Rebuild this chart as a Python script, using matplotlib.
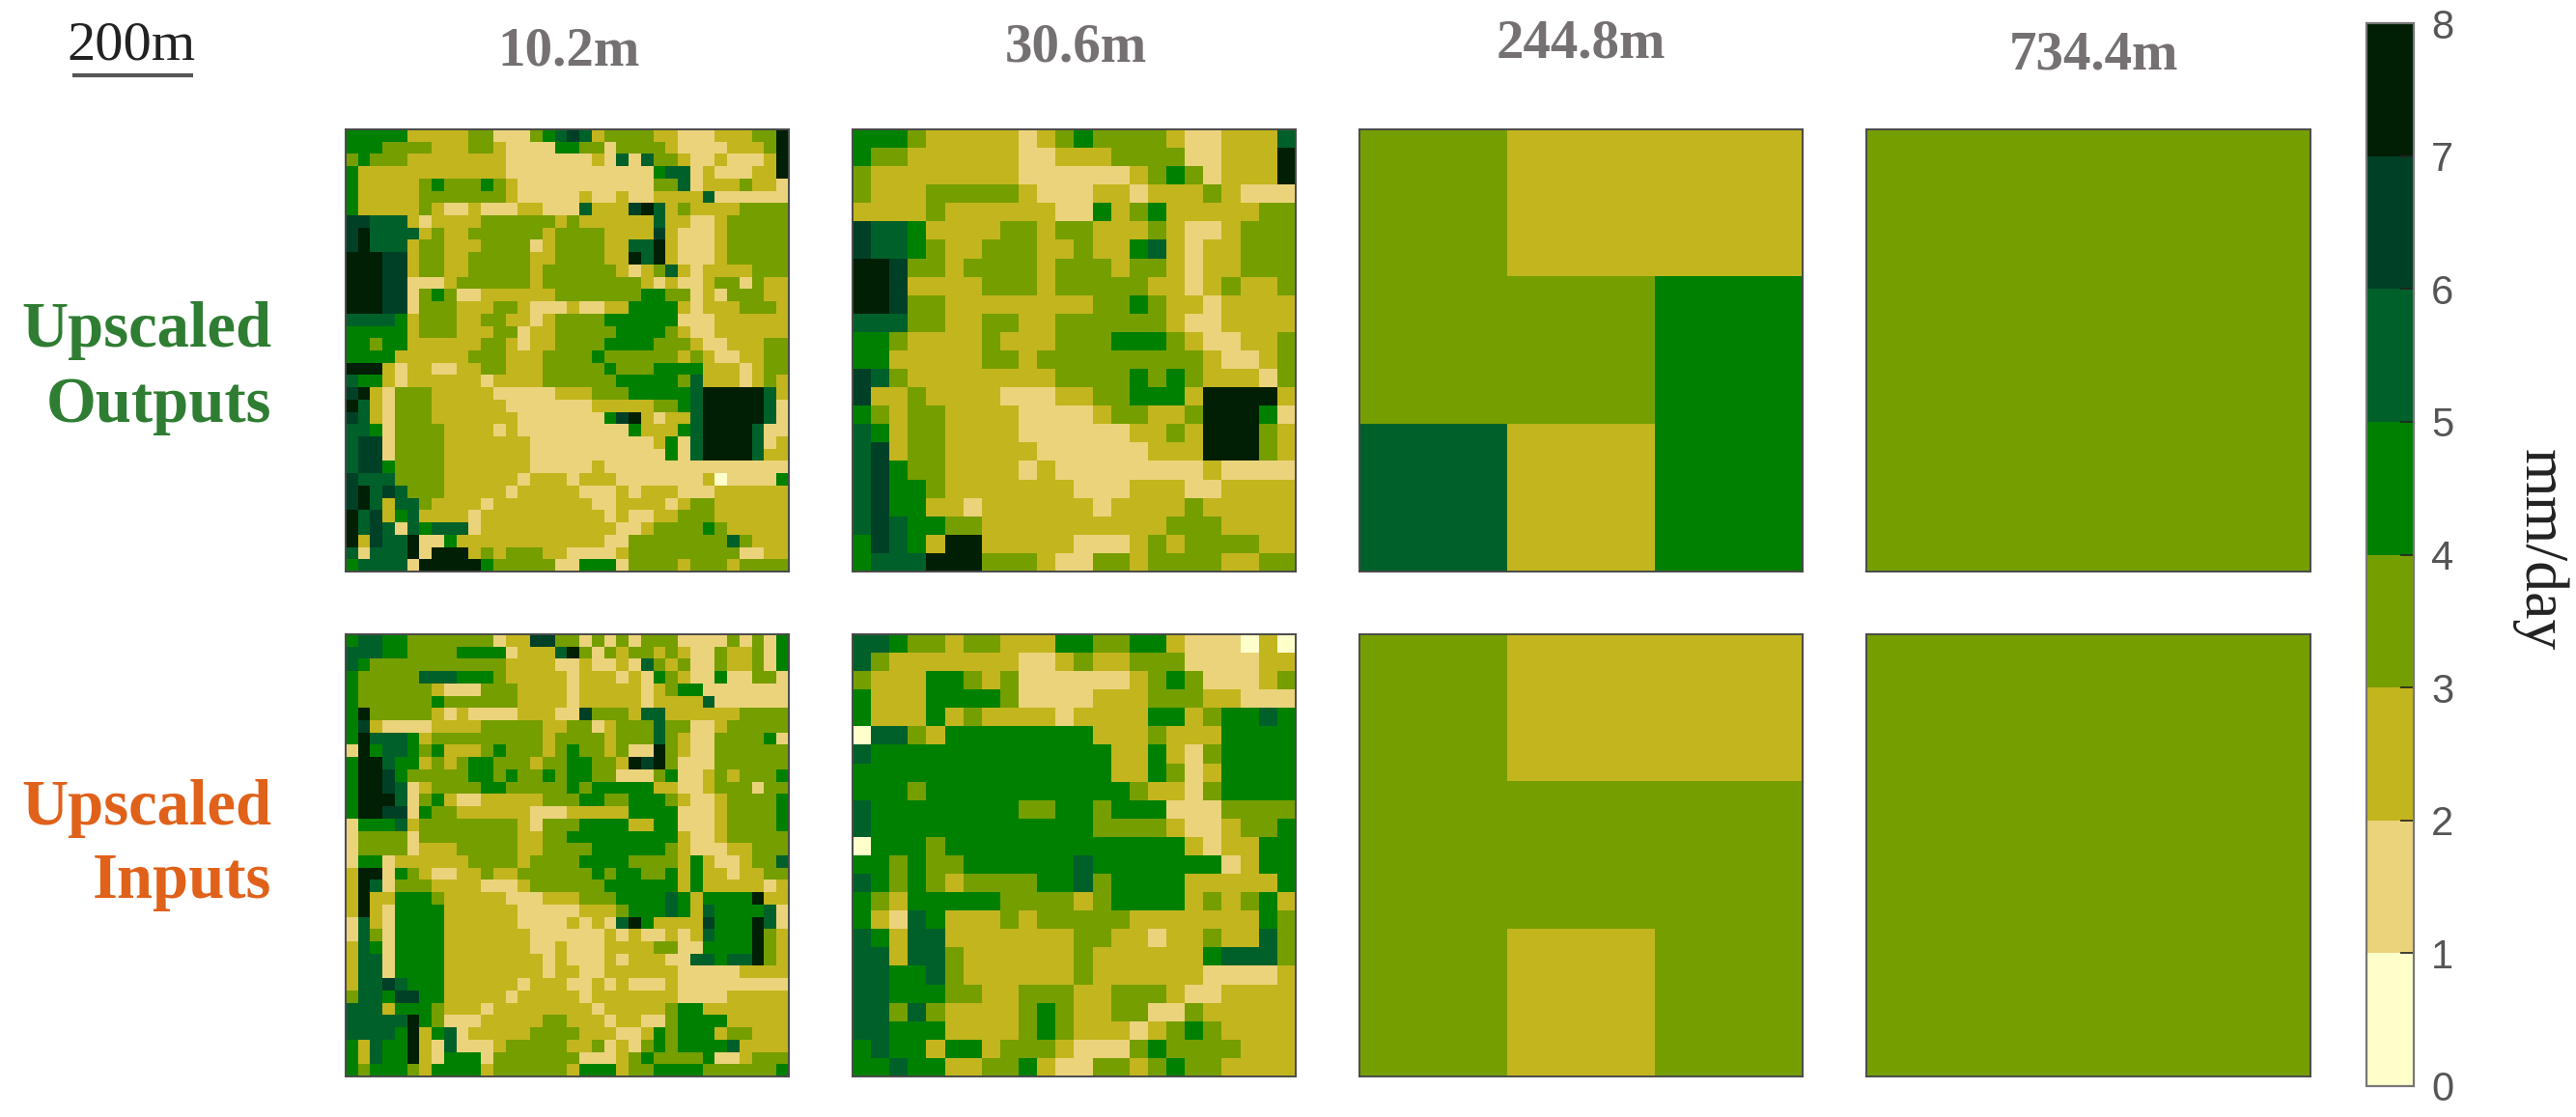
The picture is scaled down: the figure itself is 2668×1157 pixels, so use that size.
import numpy as np
import matplotlib
matplotlib.use("Agg")
import matplotlib.pyplot as plt
from matplotlib.colors import ListedColormap, BoundaryNorm
from matplotlib.cm import ScalarMappable

# Each digit d is the colour class d..d+1 mm/day
out_10 = [
"44444 2222 233 111 34 5 65 2 3333 22 111 2 22 33 7",
"444 3333 22 233 2 1111 44 33 1 3333 2 11 1 12 22 3 7",
"3 4 333 22222222 1111111 2 1 5 1 5 33 2 11 2 111 2 7",
"4 222222222222 1111111111 11 4 5 5 1 2 1 11 2 2 7",
"4 22222 3 4 3 3 3 4 3 2 11111 1111 11 33 5 1 2 22 3 22 1",
"4 22222 3333333 2 11111 2 11 2 11 2222 5 1 11111",
"4 22222 3 2 1 1 2 111 22 111 5 222 6 7 5 2 3 2222 3333",
"66 555 2 1 2222 33333 3 2 3 2 22222 5 2 2 1 1 2 33333",
"6 7 5555 2 3 2 2 333333 2 3 33 3 2222 6 2 1 11 2 33333",
"6 7 555 2 33 2 2 2 3333 1 2 333 3 22 5 5 7 2 1 11 2 33333",
"777 66 2 33 2 2 33333 2 2 3 333 2 2 7 5 7 2 1 11 2 33333",
"777 66 2 33 2 2 33333 2 3 3333 3 2 1 2 3 5 2 1 2 2 2 2 3 3 3",
"777 66 1 1 1 2 3 33333 2 333333 33 2 1 2 1 1 2 3 3 1 3 2 2",
"777 66 1 3 4 3 1 1 22222 2 3333 333 44 33 1 2 1 3 3 3 2 2",
"777 66 1 333 222 33 2 111 2 11 22 444 4 2 1 2 22 333 2",
"5555 4 2 333 22 33 22 1 2 3333 44 4444 1 11 222222",
"4444 4 2 333 222 33 1 2 2 3333 3 4444 3 2 11 222222",
"44 3 44 222222 33 2 1 22 3333 4 444 333 2 11 222 33",
"4444 222222 333 222 3333 43 3 3333 2 3 2 11 22 33",
"777 2 1 22 11 22 33 222 33333 4 3 33 44 4 4 2 22 1 2 33",
"5 44 2 1 22222 2 1 2222 333 333 4 444 4 3 5 2 22 1 2 3 2",
"6 7 2 1 333 22222 11111 222 3 3 3 44444 5 77777 5 2",
"7 5 2 1 333 222222 1111111 22 2 22 33 4 5 77777 5 1",
"6 5 2 1 333 222222 2 1111111 4 6 7 2 1 2 2 5 77777 5 1",
"55 4 1 3333 2222 1 2 111111111 4 222 4 5 7777 5 11",
"5 66 1 3333 2222222 1111111111 2 4 1 5 7777 5 1 2",
"5 66 1 3333 2222222 11111111111 4 1 5 7777 5 22",
"5 66 4 3333 222222 2 1 1111 2 111 1111 1 1111111",
"6 55 5 3333 22222 2 1 222 1 22 2 111111 1 2 0 1111 4",
"6 7 5 6 5 3 33 2222 2 1 2 2222 111 2 1 222 1 1 1 222222",
"6 7 5 2 5 5 3 2222 1 22222222 11 2222 1 2 33 222222",
"7 5 6 2 4 5 2222 1 2222222222 1 2 1 1 22 333 222222",
"7 5 6 5 1 5 4 555 1 22222222222 1 1 2 3 33 3 4 3 22222",
"7 2 6 55 7 1 1 4 2 22222222222 1 1 33333333 5 3 222",
"5 1 555 7 1 777 2 3 2 333 22 11 11 2 333333333 1 1 22",
"4 5 555 1 7 7777 4 333 33 1 1 444 1 3333 2 333 2 3333",
]

out_30 = [
"444322222123433332112225",
"433222222112223333112227",
"322222222111111234312227",
"322233333211122122232111",
"222232222221142342222233",
"655422223323322232112333",
"655432233322322452122333",
"776332333323332332122333",
"776222233323333322123223",
"776332222222233432212222",
"555332233223333332112222",
"443222232223334443211223",
"442222233233333333321123",
"653222222223333434322213",
"622322221112233444277772",
"432332222111123322377741",
"542332222111111223277732",
"562332222211111122277732",
"564332222121111111121111",
"564432222222111222112222",
"564422122222212222322222",
"565443322222222223332222",
"465427722222111232333322",
"455577733321133233332233",
]

out_244 = ["322", "334", "524"]
out_734 = ["3"]

inp_10 = [
"45544 3333333 1 22 66 33 1 3 1 3 1 333 111 1 3 1 3 1 4",
"55544 3333 4444 1 222 5 7 3 1 3 2 33 2 3 2 11 3 2 2 3 1 4",
"5 4 3 3333333333 2222 1 1 2 11 2 1 5 3 2 3 11 3 22 3 1 4",
"4 33333 555 444 3 2222 2 1 22 2 1 2 1 4 3 2 11 4 1 1 3 3 1",
"4 33333 3 2 1 1 1 3 33 2222 1 22222 1 2 3 4 4 1111111",
"4 33333 3 4 333333 222 2 1 22222 1 2222 5 111111",
"4 7 3333 3 2 1 2 1 111 222 11 6 3 33 2 5 5 222 222 3333",
"4 6 2 111 1 2 222 33333 22 33 1 2 333 5 33 11 2 33333",
"4 7 555 4 2 3 3 3333333 2 3333 2 333 5 3 2 11 3 333 4 1",
"1 7 4 55 4 3 4 2 22 3 4 333 2 3 4 3 3 2 3 1 1 7 3 2 11 33 3333",
"4 77 5 44 2 3 2 3 44 33 3 2 33 44 33 2 7 6 7 3 1 11 333333",
"4 77 6 4 3 3 333 44 3 4 3 3 4 3 44 33 111 3 4 1 1 2 3 2 333 4",
"4 77 6 5 1 2 33 3 3 44 333 3 3 4 3 44 444 2 2 11 2 333 1 33",
"4 777 5 1 3 4 2 11 22222 3 33 4 4 3 3 444 3 2 1 1 2 3 33 3 4",
"4 77 66 1 4 33 222222 1 11 222 22 4444 1 11 2 3 3 3 3 4",
"1 444 5 2 333 33333 2 1 3 33 4444 2 2 44 1 1 1 2 33 3 3 4",
"1 33 3 3 1 3333 3333 2 2 33 444444444 2 11 2 33333",
"1 33 3 3 1 222 33333 22 33 3 3 4 444 4 4 3 2 11 1 2 2 333",
"1 44 1 2 2 222 2 3333 2 3333 44 44 3 33 3 2 4 2 11 2 3 3 5",
"2 77 1 4 3 2 1 1 2 2 3 2 2 3 3333 3 4 3 44 33 4 2 4 2 2 1 2 2 3 3",
"2 7 5 1 3 3 3 2222 111 2 333333 44 4 444 2 4 2 222 2 1 2",
"2 7 2 2 4 44 3 22222 111 222 333 4444 5 4 2 4 444 7 2 2",
"2 7 2 1 4 444 222222 11111 222 3 444 5 4 2 5 444 4 5 1",
"1 5 2 1 4 444 222222 111 1 2 1 2 1 5 7 4 222 2 6 4 44 7 5 1",
"1 5 3 1 44 44 2222222 111111 2 1 2 11 2 1 2 5 444 7 3 2",
"2 5 4 1 4444 2222222 1 1 2 11 1 2 222 33 1 1 4444 7 3 2",
"2 55 1 4444 22222222 1 2 111 2 1 22 2 1 1 5 5 4 5 5 7 3 2",
"2 5 5 1 4444 22222222 1 2 2 11 222222 1 1 111 2222",
"2 5 5 6 5 444 222222 1 222 1 1 2 1 2 1 11 2 1 1 1 1111 11",
"3 5 5 4 6 6 44 22222 1 22222 1 2222222 11 11 22222",
"5 55 2 44 4 3 222 1 2222222 2 1 2222 2 3 44 2 222222",
"5 555 5 7 4 3 1 11 22222 33 22 2 1 2 2 1 1 3 44 44 22222",
"55 55 4 7 2 4 5 1 2222 2 333 3 2 22 1 1 2 4 3 4 44 2 33 222",
"4 2 5 44 7 2 1 5 1 1 1 2 33333 22 3 1 2 1 3 4 3 44 44 5 2 222",
"4 2 5 44 7 2 1 444 1 33333 33 11 1 2 3 4 3 3 33 4 1 1 2 3 3 3",
"4 3 444 3 2 4 444 2 333333 2 444 2 33 4 444 33 333 3 4",
]

inp_30 = [
"5 5 4 33 2 33 222 44 33 44 2 111 0 2 0",
"5 3 2222222 11 2 3 22 333 1111 22",
"3 222 44 3 2 3 111111 2 3 4 3 111 2 3",
"4 222 4444 3 1111 222 333 22 111",
"4 222 4 2 3 2222 1 2222 44 2 3 44 5 4",
"0 55 3 2 44444444 222 3 222 4444",
"5 4444444444444 22 4 2 1 3 4444",
"44444444444444 22 4 3 1 2 4444",
"444 3 44444444444 3 22 1 3 4444",
"5 44444444 33 44 3 444 111 3333",
"5 444444444444 3333 2 11 2 33 4",
"0 444 3 4444444444444 2 1 22 44",
"44 3 4 33 444444 5 4444444 1 2 44",
"5 4 3 4 3 2 3333 44 5 3 4444 22222 4",
"4 3 2 44444 3333 2 3 4444 2 3 2 3 4 2",
"4 2 1 5 4 222 3 2 33333 2222222 4 3",
"5 4 2 55 2222222 33 22 1 22 3 22 5 3",
"55 2 55 3 222222 3 222222 4 555 3",
"55 44 5 3 222222 3 222222 1111 2",
"55 444 33 22 333 22 333 2 11 2222",
"55 3 5 3 2222 3 4 3 22 33 11 3 22222",
"55 444 2222 3 4 3 222 1 2 3 4 3 2222",
"4 5 44 2 44 2 333 2 111 3 4 3333 222",
"44 5 44 22 33 4 2 11 33 2 3 4 33 2222",
]

inp_244 = ["322", "333", "323"]
inp_734 = ["3"]

resolutions = ["10.2m", "30.6m", "244.8m", "734.4m"]
row_labels = [["Upscaled", "Outputs"], ["Upscaled", "Inputs"]]
class_colors = ["#FFFFCC", "#EBD37B", "#C3B51D", "#759E00", "#008000", "#00602A", "#004026", "#001F05"]
cbar_ticks = [0, 1, 2, 3, 4, 5, 6, 7, 8]
cbar_label = "mm/day"
scale_label = "200m"


def grid(rows):
    cleaned = [r.replace(" ", "") for r in rows]
    bad = [(i, len(r)) for i, r in enumerate(cleaned) if len(r) != len(cleaned[0])]
    assert not bad, bad
    return np.array([[int(c) + 0.5 for c in r] for r in cleaned])


W, H = 2668, 1157
SERIF = "Liberation Serif"
fig = plt.figure(figsize=(W / 100, H / 100), dpi=100, facecolor="white")


def px_axes(x0, y0, x1, y1):
    return fig.add_axes([x0 / W, 1 - y1 / H, (x1 - x0) / W, (y1 - y0) / H])


def px_text(x, y, s, **kw):
    fig.text(x / W, 1 - y / H, s, **kw)


cmap = ListedColormap(class_colors)
norm = BoundaryNorm(cbar_ticks, cmap.N)

xs = [(358, 817), (883, 1342), (1408, 1867), (1933, 2393)]
ys = [(134, 592), (657, 1115)]
panels = [[out_10, out_30, out_244, out_734], [inp_10, inp_30, inp_244, inp_734]]

for (y0, y1), row in zip(ys, panels):
    for (x0, x1), rows in zip(xs, row):
        ax = px_axes(x0, y0, x1, y1)
        ax.imshow(grid(rows), cmap=cmap, norm=norm, interpolation="nearest", aspect="auto")
        ax.set_xticks([])
        ax.set_yticks([])
        for s in ax.spines.values():
            s.set_color("#4a4a4a")
            s.set_linewidth(1.4)

title_pos = [(589, 68), (1114, 64), (1637, 60), (2169, 71)]
for (x, y), s in zip(title_pos, resolutions):
    px_text(x, y, s, family=SERIF, fontsize=41, fontweight="bold", color="#757071", ha="center", va="baseline")

px_text(136, 62, scale_label, family=SERIF, fontsize=42, color="#222222", ha="center", va="baseline")
fig.add_artist(plt.Line2D([75 / W, 200 / W], [1 - 78 / H] * 2, color="#555555", lw=3, solid_capstyle="butt"))

label_colors = ["#2F7D32", "#E0611A"]
label_y = [(359, 437), (854, 930)]
for lines, c, ypos in zip(row_labels, label_colors, label_y):
    for s, y in zip(lines, ypos):
        px_text(281, y, s, family=SERIF, fontsize=48, fontweight="bold", color=c, ha="right", va="baseline")

cax = px_axes(2451, 24, 2500, 1125)
cb = fig.colorbar(ScalarMappable(norm=norm, cmap=cmap), cax=cax, ticks=cbar_ticks, spacing="proportional")
cb.ax.tick_params(direction="in", length=10, width=1.2, color="#222222", labelsize=30, labelcolor="#555555", pad=13)
for t in cb.ax.get_yticklabels():
    t.set_family("Liberation Sans")
cb.outline.set_edgecolor("#777777")
cb.outline.set_linewidth(1.6)
px_text(2630, 570, cbar_label, family=SERIF, fontsize=46, color="#222222", rotation=270, ha="center", va="center")

fig.savefig("out.png", dpi=100, facecolor="white")
